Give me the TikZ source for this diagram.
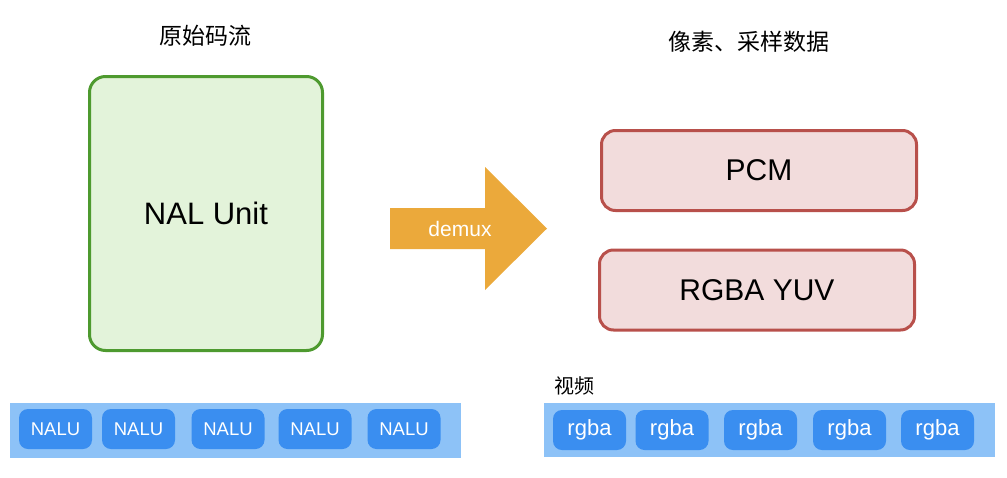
\documentclass[tikz,border=0pt]{standalone}
\usepackage{fontspec}
\setmainfont{Liberation Sans}
\newfontfamily\cjk{Noto Sans CJK SC}
\usepackage{tikz}
\usetikzlibrary{
  positioning,
  calc
}
\definecolor{streamGreen}{HTML}{4E9A2F}
\definecolor{streamFill}{HTML}{E3F3DA}
\definecolor{dataRed}{HTML}{B8504B}
\definecolor{dataFill}{HTML}{F2DCDC}
\definecolor{demuxOrange}{HTML}{EBA93B}
\definecolor{stripBlue}{HTML}{8DC2F7}
\definecolor{unitBlue}{HTML}{3A8EF0}

\begin{document}
\begin{tikzpicture}[x=1pt, y=-1pt,
  title/.style={font=\cjk\fontsize{23}{27}\selectfont},
  bigbox/.style={draw=streamGreen, line width=3pt, fill=streamFill, rounded corners=16pt},
  databox/.style={draw=dataRed, line width=3pt, fill=dataFill, rounded corners=14pt,
    minimum width=315pt, minimum height=80pt, font=\fontsize{30}{34}\selectfont},
  strip/.style={fill=stripBlue, inner sep=0pt},
  unit/.style={fill=unitBlue, rounded corners=9pt, text=white, inner sep=0pt,
    minimum width=73pt, minimum height=40pt}
  ]
  \useasboundingbox (0,0) rectangle (1007,477);

  % left side: raw stream
  \node[title] (rawtitle) at (205, 36) {原始码流};
  \node[bigbox, minimum width=233pt, minimum height=274pt,
    font=\fontsize{31}{36}\selectfont] (nal) at (206, 213.5) {NAL Unit};

  % demux arrow
  \fill[demuxOrange] (390,208) -- (485,208) -- (485,167) -- (547,228.5)
    -- (485,290) -- (485,249) -- (390,249) -- cycle;
  \node[text=white, font=\fontsize{21}{24}\selectfont] (demux) at (460, 229) {demux};

  % right side: decoded data
  \node[title] (datatitle) at (749, 42) {像素、采样数据};
  \node[databox] (pcm) at (759, 170.5) {PCM};
  \node[databox] (rgbayuv) at (757, 290) {RGBA YUV};

  % NALU strip
  \node[strip, minimum width=451pt, minimum height=55pt] (nalustrip) at (235.5, 430) {};
  \node[unit, font=\fontsize{18.5}{21}\selectfont] (nalu1) at (55.5, 429) {NALU};
  \node[unit, font=\fontsize{18.5}{21}\selectfont] (nalu2) at (138.5, 429) {NALU};
  \node[unit, font=\fontsize{18.5}{21}\selectfont] (nalu3) at (228, 429) {NALU};
  \node[unit, font=\fontsize{18.5}{21}\selectfont] (nalu4) at (315, 429) {NALU};
  \node[unit, font=\fontsize{18.5}{21}\selectfont] (nalu5) at (404, 429) {NALU};

  % video strip
  \node[font=\cjk\fontsize{20}{24}\selectfont] (video) at (574, 386) {视频};
  \node[strip, minimum width=451pt, minimum height=54pt] (rgbastrip) at (769.5, 430) {};
  \node[unit, font=\fontsize{22}{25}\selectfont] (rgba1) at (589.5, 430) {rgba};
  \node[unit, font=\fontsize{22}{25}\selectfont] (rgba2) at (672, 430) {rgba};
  \node[unit, font=\fontsize{22}{25}\selectfont] (rgba3) at (760.5, 430) {rgba};
  \node[unit, font=\fontsize{22}{25}\selectfont] (rgba4) at (849.5, 430) {rgba};
  \node[unit, font=\fontsize{22}{25}\selectfont] (rgba5) at (937.5, 430) {rgba};
\end{tikzpicture}
\end{document}
